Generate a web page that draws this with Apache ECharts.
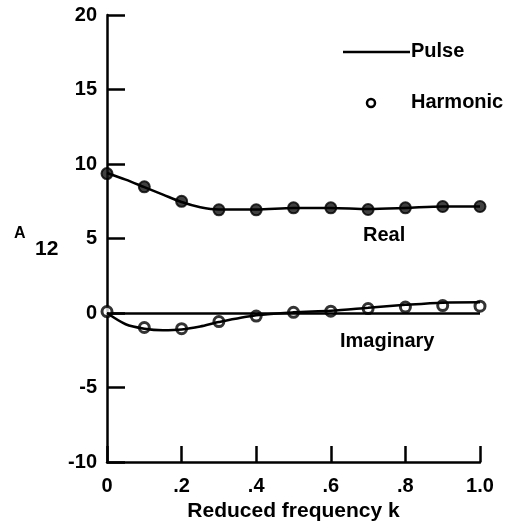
<!DOCTYPE html>
<html>
<head>
<meta charset="utf-8">
<style>
    html, body { margin: 0; padding: 0; background: #fff; }
    #chart { width: 511px; height: 527px; }
</style>
<script src="https://cdn.jsdelivr.net/npm/echarts@6/dist/echarts.min.js"></script>
</head>
<body>
<div id="chart"></div>
<script>
    // reduced frequency k where harmonic results were computed
    var harmonicK = [0, 0.1, 0.2, 0.3, 0.4, 0.5, 0.6, 0.7, 0.8, 0.9, 1.0];
    var harmonicReal = [9.36, 8.47, 7.5, 6.93, 6.93, 7.06, 7.06, 6.95, 7.06, 7.15, 7.15];
    var harmonicImag = [0.1, -0.97, -1.05, -0.57, -0.2, 0.05, 0.13, 0.3, 0.4, 0.5, 0.46];

    // pulse curve
    var pulseK = [0, 0.05, 0.1, 0.15, 0.2, 0.25, 0.3, 0.4, 0.5, 0.6, 0.7, 0.8, 0.9, 1.0];
    var pulseReal = [9.4, 8.95, 8.45, 7.95, 7.45, 7.1, 6.95, 6.95, 7.05, 7.05, 6.98, 7.05, 7.15, 7.15];
    var pulseImag = [0, -0.75, -1.05, -1.15, -1.1, -0.9, -0.6, -0.15, 0.05, 0.15, 0.35, 0.55, 0.7, 0.72];

    var xTickLabels = {0: '0', 0.2: '.2', 0.4: '.4', 0.6: '.6', 0.8: '.8', 1: '1.0'};

    function pairs(xs, ys) {
        return xs.map(function (x, i) { return [x, ys[i]]; });
    }

    var font = 'Liberation Sans';
    var chart = echarts.init(document.getElementById('chart'));

    var lineStyle = {color: '#000', width: 2.5};
    var option = {
        animation: false,
        backgroundColor: '#fff',
        textStyle: {fontFamily: font, color: '#000'},
        grid: {left: 107, right: 31, top: 15, bottom: 63},
        xAxis: {
            type: 'value',
            min: 0,
            max: 1,
            interval: 0.2,
            name: 'Reduced frequency k',
            nameLocation: 'middle',
            nameGap: 36,
            nameTextStyle: {fontSize: 21, fontWeight: 'bold', fontFamily: font, color: '#000'},
            axisLine: {onZero: false, lineStyle: {color: '#000', width: 2.5}},
            axisTick: {inside: true, length: 16, lineStyle: {color: '#000', width: 2.5}},
            axisLabel: {
                fontSize: 20, fontWeight: 'bold', color: '#000', margin: 14,
                formatter: function (v) { return xTickLabels[Math.round(v * 10) / 10]; }
            },
            splitLine: {show: false}
        },
        yAxis: {
            type: 'value',
            min: -10,
            max: 20,
            interval: 5,
            axisLine: {onZero: false, lineStyle: {color: '#000', width: 2.5}},
            axisTick: {inside: true, length: 18, lineStyle: {color: '#000', width: 2.5}},
            axisLabel: {fontSize: 20, fontWeight: 'bold', color: '#000', margin: 10},
            splitLine: {show: false}
        },
        series: [
            {
                name: 'Pulse real',
                type: 'line',
                smooth: 0.3,
                showSymbol: false,
                lineStyle: lineStyle,
                data: pairs(pulseK, pulseReal)
            },
            {
                name: 'Pulse imaginary',
                type: 'line',
                smooth: 0.3,
                showSymbol: false,
                lineStyle: lineStyle,
                data: pairs(pulseK, pulseImag),
                markLine: {
                    silent: true,
                    symbol: 'none',
                    label: {show: false},
                    lineStyle: {color: '#000', width: 2.5, type: 'solid'},
                    data: [{yAxis: 0}]
                }
            },
            {
                name: 'Harmonic real',
                type: 'scatter',
                symbol: 'circle',
                symbolSize: 11,
                itemStyle: {color: '#111', borderColor: '#000', borderWidth: 2},
                data: pairs(harmonicK, harmonicReal)
            },
            {
                name: 'Harmonic imaginary',
                type: 'scatter',
                symbol: 'circle',
                symbolSize: 10,
                itemStyle: {color: '#fff', borderColor: '#000', borderWidth: 3},
                data: pairs(harmonicK, harmonicImag)
            }
        ],
        graphic: [
            // legend
            {type: 'line', shape: {x1: 343, y1: 52, x2: 410, y2: 52}, style: {stroke: '#000', lineWidth: 2.5}},
            {type: 'text', left: 411, top: 41, style: {text: 'Pulse', font: 'bold 20px ' + font, fill: '#000'}},
            {type: 'circle', shape: {cx: 371, cy: 103, r: 4}, style: {fill: '#fff', stroke: '#000', lineWidth: 2.5}},
            {type: 'text', left: 411, top: 92, style: {text: 'Harmonic', font: 'bold 20px ' + font, fill: '#000'}},
            // curve labels
            {type: 'text', left: 363, top: 225, style: {text: 'Real', font: 'bold 20px ' + font, fill: '#000'}},
            {type: 'text', left: 340, top: 331, style: {text: 'Imaginary', font: 'bold 20px ' + font, fill: '#000'}},
            // y axis label
            {type: 'text', left: 14, top: 226, style: {text: 'A', font: 'bold 16px ' + font, fill: '#000'}},
            {type: 'text', left: 35, top: 239, style: {text: '12', font: 'bold 21px ' + font, fill: '#000'}}
        ]
    };

    chart.setOption(option);
</script>
</body>
</html>
